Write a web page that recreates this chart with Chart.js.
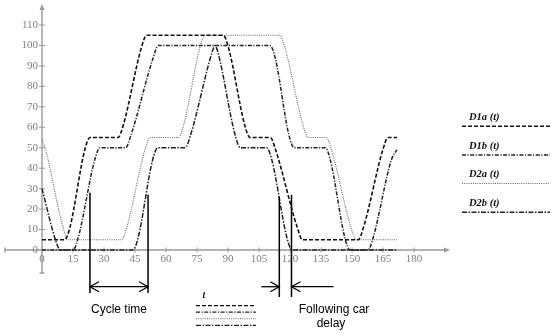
<!DOCTYPE html>
<html><head><meta charset="utf-8">
<script src="https://cdn.jsdelivr.net/npm/chart.js@4/dist/chart.umd.min.js"></script>
<style>html,body{margin:0;padding:0;background:#fff}#wrap{width:559px;height:336px;position:relative}</style>
</head><body><div id="wrap"><canvas id="c" width="559" height="336"></canvas></div>
<script>
// ---- data ----
const seriesNames = ['D1a (t)', 'D1b (t)', 'D2a (t)', 'D2b (t)'];

const d1aT = [0, 11, 13.5, 20.7, 23.2, 36.8, 39.3, 48.1, 50.6, 87.7, 90.2, 98.1, 100.6, 110.5, 113, 123.5, 126, 153, 155.5, 164.9, 167.4, 171.7];
const d1aV = [5, 5, 11, 49, 55, 55, 61, 99, 105, 105, 99, 61, 55, 55, 49, 11, 5, 5, 11, 49, 55, 55];

const d1bT = [0, 15, 17.5, 25.5, 28, 40.5, 43, 53.8, 56.3, 110.3, 112.8, 119.5, 122, 137, 139.5, 146.5, 149, 157.7, 160.2, 169, 171.7];
const d1bV = [0, 0, 6, 44, 50, 50, 56, 94, 100, 100, 94, 56, 50, 50, 44, 6, 0, 0, 6, 44, 49];

const d2aT = [0, 1.5, 10.2, 12.7, 38.5, 41, 49.8, 52.3, 66, 68.5, 76.4, 78.9, 115, 117.5, 126.3, 128.8, 137.5, 140, 149.5, 152, 171.7];
const d2aV = [54, 50, 11, 5, 5, 11, 49, 55, 55, 61, 99, 105, 105, 99, 61, 55, 55, 49, 11, 5, 5];

const d2bT = [0, 6.5, 8.8, 44, 46.5, 53.5, 56, 69.3, 71.8, 82.4, 83.7, 85, 93.5, 96, 108.7, 111.2, 118.5, 121, 171.7];
const d2bV = [30, 5, 0, 0, 6, 44, 50, 50, 56, 97, 100, 97, 56, 50, 50, 44, 6, 0, 0];

const xTickValues = [0, 15, 30, 45, 60, 75, 90, 105, 120, 135, 150, 165, 180];
const xTickLabels = ['0', '15', '30', '45', '60', '75', '90', '105', '120', '135', '150', '165', '180'];
const yTickValues = [0, 10, 20, 30, 40, 50, 60, 70, 80, 90, 100, 110];
const yTickLabels = ['0', '10', '20', '30', '40', '50', '60', '70', '80', '90', '100', '110'];

const cycleTimes = [23.2, 51.3];       // t of the two "Cycle time" markers
const cycleTops = [28, 27];            // value where the markers meet the curves
const delayTimes = [114.8, 120.7];     // t of the "Following car delay" markers
const delayTops = [26, 27];

// ---- styles ----
const styles = [
  { color: '#111', width: 1.6, dash: [4, 2] },
  { color: '#222', width: 1.5, dash: [4, 1.5, 1.2, 1.5] },
  { color: '#666', width: 1.1, dash: [1, 1.2] },
  { color: '#222', width: 1.5, dash: [5, 1.5, 1.5, 1.5] }
];
const seriesT = [d1aT, d1bT, d2aT, d2bT];
const seriesV = [d1aV, d1bV, d2aV, d2bV];

const datasets = seriesNames.map((name, i) => ({
  label: name,
  data: seriesT[i].map((t, j) => ({ x: t, y: seriesV[i][j] })),
  showLine: true,
  borderColor: styles[i].color,
  borderWidth: styles[i].width,
  borderDash: styles[i].dash,
  pointRadius: 0,
  fill: false,
  cubicInterpolationMode: 'monotone'
}));

function openHead(ctx, x, y, dir) {
  ctx.beginPath();
  ctx.moveTo(x - dir * 9, y - 5);
  ctx.lineTo(x, y);
  ctx.lineTo(x - dir * 9, y + 5);
  ctx.stroke();
}

const axesPlugin = {
  id: 'axesPlugin',
  beforeDatasetsDraw(chart) {
    const ctx = chart.ctx, xs = chart.scales.x, ys = chart.scales.y, a = chart.chartArea;
    const x0 = xs.getPixelForValue(0), y0 = ys.getPixelForValue(0);
    ctx.save();
    ctx.strokeStyle = '#9a9a9a';
    ctx.fillStyle = '#9a9a9a';
    ctx.lineWidth = 1.4;
    // x axis
    ctx.beginPath(); ctx.moveTo(a.left, y0); ctx.lineTo(a.right - 2, y0); ctx.stroke();
    ctx.beginPath(); ctx.moveTo(a.left, y0 - 2.5); ctx.lineTo(a.left, y0 + 2.5); ctx.stroke();
    ctx.beginPath(); ctx.moveTo(a.right + 1, y0); ctx.lineTo(a.right - 5, y0 - 2.5); ctx.lineTo(a.right - 5, y0 + 2.5); ctx.closePath(); ctx.fill();
    // y axis
    ctx.beginPath(); ctx.moveTo(x0, a.bottom); ctx.lineTo(x0, a.top + 2); ctx.stroke();
    ctx.beginPath(); ctx.moveTo(x0 - 2.5, a.bottom); ctx.lineTo(x0 + 2.5, a.bottom); ctx.stroke();
    ctx.beginPath(); ctx.moveTo(x0, a.top - 1); ctx.lineTo(x0 - 2.5, a.top + 5); ctx.lineTo(x0 + 2.5, a.top + 5); ctx.closePath(); ctx.fill();
    // ticks
    ctx.lineWidth = 1;
    ctx.font = '11px "Liberation Serif"';
    ctx.textBaseline = 'middle';
    xTickValues.forEach((v, i) => {
      const px = xs.getPixelForValue(v);
      ctx.beginPath(); ctx.moveTo(px, y0 - 2.5); ctx.lineTo(px, y0 + 2.5); ctx.stroke();
      ctx.textAlign = 'center';
      ctx.fillStyle = '#808080';
      ctx.fillText(xTickLabels[i], px, y0 + 9.5);
    });
    yTickValues.forEach((v, i) => {
      const py = ys.getPixelForValue(v);
      if (v !== 0) { ctx.beginPath(); ctx.moveTo(x0 - 3, py); ctx.lineTo(x0 + 3, py); ctx.stroke(); }
      ctx.textAlign = 'right';
      ctx.fillStyle = '#808080';
      ctx.fillText(yTickLabels[i], x0 - 4, py);
    });
    ctx.restore();
  },
  afterDraw(chart) {
    const ctx = chart.ctx, xs = chart.scales.x, ys = chart.scales.y;
    ctx.save();
    // right legend
    const legY = [126.3, 154.9, 183.5, 212.2];
    seriesNames.forEach((name, i) => {
      ctx.font = 'bold italic 10.5px "Liberation Serif"';
      ctx.fillStyle = '#111';
      ctx.textAlign = 'left';
      ctx.textBaseline = 'middle';
      ctx.fillText(name, 469, legY[i] - 9);
      ctx.strokeStyle = styles[i].color;
      ctx.lineWidth = styles[i].width;
      ctx.setLineDash(styles[i].dash);
      ctx.beginPath(); ctx.moveTo(462, legY[i]); ctx.lineTo(550, legY[i]); ctx.stroke();
    });
    // small legend under axis
    ctx.setLineDash([]);
    ctx.font = 'bold italic 10px "Liberation Serif"';
    ctx.fillStyle = '#111';
    ctx.textAlign = 'center';
    ctx.fillText('t', 204, 295);
    const smallY = [305.7, 312.2, 318.8, 325.4];
    styles.forEach((s, i) => {
      ctx.strokeStyle = s.color;
      ctx.lineWidth = Math.min(s.width, 1.3);
      ctx.setLineDash(s.dash);
      ctx.beginPath(); ctx.moveTo(196, smallY[i]); ctx.lineTo(256, smallY[i]); ctx.stroke();
    });
    ctx.setLineDash([]);
    // annotations
    ctx.strokeStyle = '#000';
    ctx.lineWidth = 1.5;
    const arrowY = 286.7;
    const c0 = xs.getPixelForValue(cycleTimes[0]), c1 = xs.getPixelForValue(cycleTimes[1]);
    [[c0, cycleTops[0]], [c1, cycleTops[1]]].forEach(([px, v]) => {
      ctx.beginPath(); ctx.moveTo(px, ys.getPixelForValue(v)); ctx.lineTo(px, 293); ctx.stroke();
    });
    ctx.lineWidth = 1.3;
    ctx.beginPath(); ctx.moveTo(c0, arrowY); ctx.lineTo(c1, arrowY); ctx.stroke();
    openHead(ctx, c0, arrowY, -1);
    openHead(ctx, c1, arrowY, 1);
    const d0 = xs.getPixelForValue(delayTimes[0]), d1 = xs.getPixelForValue(delayTimes[1]);
    ctx.lineWidth = 1.5;
    [[d0, delayTops[0]], [d1, delayTops[1]]].forEach(([px, v]) => {
      ctx.beginPath(); ctx.moveTo(px, ys.getPixelForValue(v)); ctx.lineTo(px, 297); ctx.stroke();
    });
    ctx.lineWidth = 1.3;
    ctx.beginPath(); ctx.moveTo(d0 - 18, arrowY); ctx.lineTo(d0, arrowY); ctx.stroke();
    openHead(ctx, d0, arrowY, 1);
    ctx.beginPath(); ctx.moveTo(d1 + 42, arrowY); ctx.lineTo(d1, arrowY); ctx.stroke();
    openHead(ctx, d1, arrowY, -1);
    ctx.font = '12px "Liberation Sans"';
    ctx.fillStyle = '#000';
    ctx.textAlign = 'center';
    ctx.textBaseline = 'middle';
    ctx.fillText('Cycle time', (c0 + c1) / 2, 310);
    ctx.fillText('Following car', 334, 309.5);
    ctx.fillText('delay', 331, 323.5);
    ctx.restore();
  }
};

new Chart(document.getElementById('c'), {
  type: 'scatter',
  data: { datasets },
  options: {
    responsive: false,
    animation: false,
    layout: { padding: { left: 5, right: 110, top: 5, bottom: 63 } },
    scales: {
      x: { type: 'linear', min: -17.9, max: 196.9, display: false },
      y: { type: 'linear', min: -11.25, max: 119.8, display: false }
    },
    plugins: { legend: { display: false }, tooltip: { enabled: false } }
  },
  plugins: [axesPlugin]
});
</script>
</body></html>
